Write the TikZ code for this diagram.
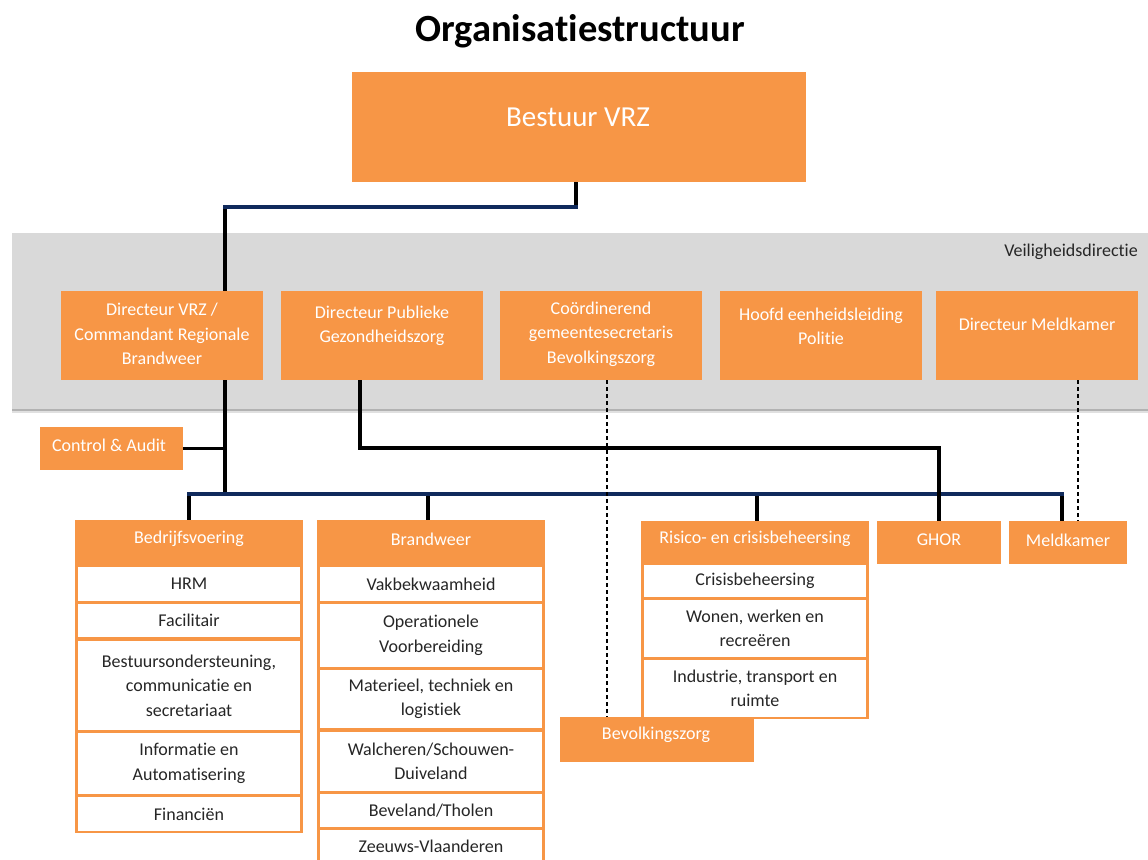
\documentclass[tikz,border=0pt]{standalone}
\usepackage{fontspec}
\setmainfont{Carlito}[Ligatures=NoCommon]
\definecolor{org}{HTML}{F79646}
\definecolor{navy}{RGB}{16,42,92}
\definecolor{band}{HTML}{D9D9D9}
\definecolor{ink}{HTML}{262626}
\pgfdeclarelayer{back}
\pgfdeclarelayer{bg}
\pgfsetlayers{back,bg,main}
\tikzset{
  txt/.style={font=\fontsize{18}{24.5}\selectfont},
  obox/.style={fill=org, draw=none, inner sep=0pt, text=white, align=center, txt},
  wtxt/.style={text=white, align=center, inner sep=0pt, txt},
  item/.style={fill=white, draw=none, inner sep=0pt, text=ink, align=center, minimum width=222pt, txt},
  blk/.style={line width=3.3pt, black, line join=miter},
  nav/.style={line width=3.3pt, navy, line cap=rect},
  dsh/.style={line width=1.3pt, black, dash pattern=on 4pt off 3pt},
}
\begin{document}
\begin{tikzpicture}[x=1pt,y=-1pt]
\useasboundingbox (0,0) rectangle (1148,859);

% title
\node[font=\bfseries\fontsize{38.5}{42}\selectfont, text=black, inner sep=0pt] (title) at (580,31) {Organisatiestructuur};

% grey band
\begin{pgfonlayer}{back}
  \fill[white] (0,0) rectangle (1148,859);
  \fill[black!12] (12,236) rectangle (1148,413);
  \fill[black!30] (12,236) rectangle (1148,411);
  \fill[band] (12,233) rectangle (1148,409);
\end{pgfonlayer}
\node[anchor=east, text=ink, inner sep=0pt, txt] (vd) at (1138,252) {Veiligheidsdirectie};

% Bestuur
\node[obox, minimum width=454pt, minimum height=110pt] (bestuur) at (579,127) {};
\node[wtxt, font=\fontsize{29}{32}\selectfont] (bestuurT) at (578,117) {Bestuur VRZ};

% Directors
\node[obox, minimum width=202pt, minimum height=89pt] (d1) at (162,335.5) {};
\node[wtxt] (d1T) at (162,334) {Directeur VRZ /\\Commandant Regionale\\Brandweer};
\node[obox, minimum width=202pt, minimum height=89pt] (d2) at (382,335.5) {};
\node[wtxt] (d2T) at (382,326) {Directeur Publieke\\Gezondheidszorg};
\node[obox, minimum width=202pt, minimum height=89pt] (d3) at (601,335.5) {};
\node[wtxt] (d3T) at (601,334) {Coördinerend\\gemeentesecretaris\\Bevolkingszorg};
\node[obox, minimum width=202pt, minimum height=89pt] (d4) at (821,335.5) {};
\node[wtxt] (d4T) at (821,326.5) {Hoofd eenheidsleiding\\Politie};
\node[obox, minimum width=202pt, minimum height=89pt] (d5) at (1037,335.5) {};
\node[wtxt] (d5T) at (1037,324) {Directeur Meldkamer};

% Control & Audit
\node[obox, minimum width=143pt, minimum height=43pt] (ca) at (111.5,448.5) {};
\node[wtxt] (caT) at (109,445) {Control \& Audit};

% Bedrijfsvoering column
\node[obox, minimum width=228pt, minimum height=313pt] (bv) at (189,676.5) {};
\node[wtxt] (bvT) at (189,539) {Bedrijfsvoering};
\node[item, minimum height=34pt] (bv1) at (189,584) {HRM};
\node[item, minimum height=33pt] (bv2) at (189,620.5) {Facilitair};
\node[item, minimum height=89pt] (bv3) at (189,685.5) {Bestuursondersteuning,\\communicatie en\\secretariaat};
\node[item, minimum height=61pt] (bv4) at (189,763.5) {Informatie en\\Automatisering};
\node[item, minimum height=34pt] (bv5) at (189,814) {Financiën};

% Brandweer column
\node[obox, minimum width=228pt, minimum height=360pt] (bw) at (431,700) {};
\node[wtxt] (bwT) at (431,539) {Brandweer};
\node[item, minimum height=34pt] (bw1) at (431,584) {Vakbekwaamheid};
\node[item, minimum height=63pt] (bw2) at (431,635.5) {Operationele\\Voorbereiding};
\node[item, minimum height=58pt] (bw3) at (431,699) {Materieel, techniek en\\logistiek};
\node[item, minimum height=59pt] (bw4) at (431,761.5) {Walcheren/Schouwen-\\Duiveland};
\node[item, minimum height=33pt] (bw5) at (431,810.5) {Beveland/Tholen};
\node[item, minimum height=32pt] (bw6) at (431,846) {Zeeuws-Vlaanderen};

% Risico column
\node[obox, minimum width=228pt, minimum height=198pt] (rc) at (755,620) {};
\node[wtxt] (rcT) at (755,539) {Risico- en crisisbeheersing};
\node[item, minimum height=32pt] (rc1) at (755,581) {Crisisbeheersing};
\node[item, minimum height=57pt] (rc2) at (755,628.5) {Wonen, werken en\\recreëren};
\node[item, minimum height=57pt] (rc3) at (755,688.5) {Industrie, transport en\\ruimte};

% Bevolkingszorg
\node[obox, minimum width=194pt, minimum height=45pt] (bz) at (657,739.5) {};
\node[wtxt] (bzT) at (656,735) {Bevolkingszorg};

% GHOR, Meldkamer
\node[obox, minimum width=124pt, minimum height=43pt] (ghor) at (939,542.5) {};
\node[wtxt] (ghorT) at (939,540) {GHOR};
\node[obox, minimum width=118pt, minimum height=43pt] (mk) at (1068,542.5) {};
\node[wtxt] (mkT) at (1068,540) {Meldkamer};

% connectors
\coordinate (top) at (0,207);
\coordinate (bus) at (225,494);
\coordinate (gy) at (0,448);
\begin{pgfonlayer}{bg}
  \draw[blk] ([xshift=-3pt]bestuur.south) |- (top -| bus) -- (d1.north -| bus);
  \draw[nav] ([xshift=-3pt]bestuur.south |- top) -- (top -| bus);
  \draw[blk] (d1.south -| bus) -- (bus);
  \draw[blk] (ca.east) -- (ca.east -| bus);
  \draw[blk] (bv.north |- bus) -- (bv.north);
  \draw[blk] ([xshift=-3pt]bw.north |- bus) -- ([xshift=-3pt]bw.north);
  \draw[blk] ([xshift=2pt]rc.north |- bus) -- ([xshift=2pt]rc.north);
  \draw[blk] ([xshift=-6pt]mk.north |- bus) -- ([xshift=-6pt]mk.north);
  \draw[nav] (bv.north |- bus) -- ([xshift=-6pt]mk.north |- bus);
  \draw[blk] ([xshift=-22pt]d2.south) |- (ghor.north |- gy) -- (ghor.north);
  \draw[dsh] ([xshift=6pt]d3.south) -- ([xshift=6pt]d3.south |- bz.north);
  \draw[dsh] ([xshift=41pt]d5.south) -- ([xshift=41pt]d5.south |- mk.north);
\end{pgfonlayer}
\end{tikzpicture}
\end{document}
